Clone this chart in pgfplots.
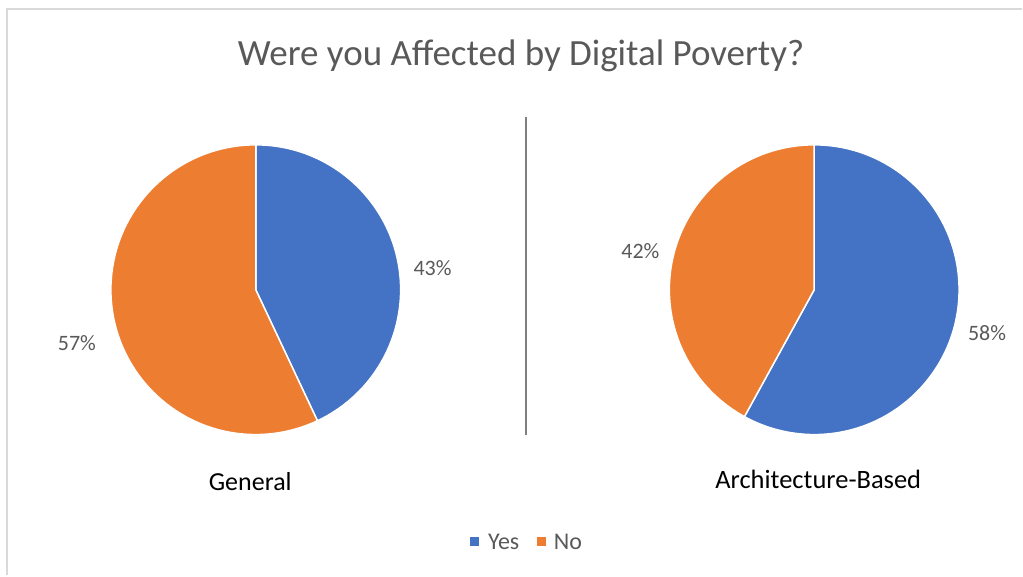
\documentclass[border=0pt]{standalone}
\usepackage{pgfplots}
\pgfplotsset{compat=1.18}
\usepackage{pgfplotstable}
\usepackage{fontspec}
\setmainfont{Carlito}
\definecolor{yesblue}{HTML}{4472C4}
\definecolor{noorange}{HTML}{ED7D31}
\definecolor{txtgray}{HTML}{595959}
\definecolor{framegray}{HTML}{D9D9D9}
\definecolor{sepgray}{HTML}{7F7F7F}

% share of Yes / No (percent), pie centre and radius in picture units
\pgfplotstableread{
pie cx cy r yes no
General 256 286 145 43 57
Architecture 815 286 145 58 42
}\piedata

\pgfplotstablegetelem{0}{yes}\of\piedata \let\yesA\pgfplotsretval
\pgfplotstablegetelem{1}{yes}\of\piedata \let\yesB\pgfplotsretval
\pgfmathsetmacro\endA{90-3.6*\yesA}
\pgfmathsetmacro\endB{90-3.6*\yesB}

\begin{document}
\begin{tikzpicture}
\begin{axis}[
    width=1023bp, height=576bp, scale only axis,
    xmin=0, xmax=1023, ymin=0, ymax=576,
    enlargelimits=false, hide axis, clip=false,
]
\addplot[draw=none] coordinates {(0,0) (1023,576)};

% frame
\draw[framegray, line width=2bp] (axis cs:7,0) -- (axis cs:7,567) -- (axis cs:1023,567);

% title
\node[txtgray, font=\fontsize{37bp}{42bp}\selectfont] at (axis cs:521.5,520) {Were you Affected by Digital Poverty?};

% General pie
\fill[yesblue, draw=white, line width=1.5bp] (axis cs:256,431)
    arc[start angle=90, end angle=\endA, radius=145bp] -- (axis cs:256,286) -- cycle;
\fill[noorange, draw=white, line width=1.5bp] (axis cs:256,431)
    arc[start angle=90, end angle=\endA+360, radius=145bp] -- (axis cs:256,286) -- cycle;

% Architecture-Based pie
\fill[yesblue, draw=white, line width=1.5bp] (axis cs:815,431)
    arc[start angle=90, end angle=\endB, radius=145bp] -- (axis cs:815,286) -- cycle;
\fill[noorange, draw=white, line width=1.5bp] (axis cs:815,431)
    arc[start angle=90, end angle=\endB+360, radius=145bp] -- (axis cs:815,286) -- cycle;

% separator
\draw[sepgray, line width=2bp] (axis cs:527,459) -- (axis cs:527,141);

% data labels
\begin{scope}[every node/.style={txtgray, font=\fontsize{22bp}{26bp}\selectfont}]
\node at (axis cs:433,308) {43\%};
\node at (axis cs:77,233) {57\%};
\node at (axis cs:641,325) {42\%};
\node at (axis cs:988,243) {58\%};
\end{scope}

% pie names
\node[black, font=\fontsize{26bp}{30bp}\selectfont] at (axis cs:250.5,94) {General};
\node[black, font=\fontsize{26.5bp}{30bp}\selectfont] at (axis cs:819,96) {Architecture-Based};

% legend
\fill[yesblue] (axis cs:470,29) rectangle (axis cs:479,38);
\node[txtgray, anchor=west, font=\fontsize{24bp}{28bp}\selectfont] at (axis cs:485,34) {Yes};
\fill[noorange] (axis cs:538,29) rectangle (axis cs:547,38);
\node[txtgray, anchor=west, font=\fontsize{24bp}{28bp}\selectfont] at (axis cs:551,34) {No};
\end{axis}
\end{tikzpicture}
\end{document}
